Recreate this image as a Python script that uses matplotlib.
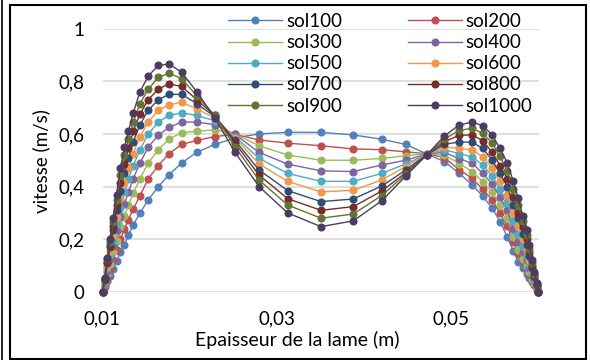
import matplotlib
matplotlib.use("Agg")
import matplotlib.pyplot as plt
from matplotlib.lines import Line2D
from matplotlib.patches import Rectangle

plt.rcParams['font.family'] = ['Lato', 'DejaVu Sans']

# epaisseur de la lame (m)
x_pos = [0.0100, 0.01029, 0.01057, 0.01086, 0.01120, 0.01161, 0.01206, 0.01252, 0.01298,
         0.01353, 0.01430, 0.01525, 0.01640, 0.01763, 0.01908, 0.02080, 0.02290, 0.02520,
         0.02795, 0.03124, 0.03506, 0.03876, 0.04202, 0.04477, 0.04718, 0.04920, 0.05092,
         0.05241, 0.05360, 0.05470, 0.05558, 0.05642, 0.05711, 0.05768, 0.05819, 0.05864,
         0.05894, 0.05929, 0.05952, 0.05979, 0.06000]

sol100 = [0, 0.018, 0.04, 0.062, 0.088, 0.118, 0.15, 0.18, 0.215, 0.255, 0.30, 0.35, 0.40, 0.445,
          0.49, 0.53, 0.56, 0.585, 0.60, 0.606, 0.606, 0.596, 0.58, 0.56, 0.524, 0.495, 0.45,
          0.406, 0.364, 0.318, 0.267, 0.21, 0.155, 0.115, 0.09, 0.07, 0.055, 0.037, 0.025, 0.011, 0]
sol200 = [0, 0.025, 0.055, 0.085, 0.12, 0.16, 0.2, 0.24, 0.275, 0.315, 0.365, 0.43, 0.48, 0.525,
          0.56, 0.575, 0.59, 0.598, 0.577, 0.565, 0.555, 0.543, 0.54, 0.532, 0.525, 0.51, 0.464,
          0.431, 0.39, 0.35, 0.30, 0.25, 0.19, 0.145, 0.112, 0.088, 0.068, 0.046, 0.031, 0.013, 0]
sol300 = [0, 0.03, 0.07, 0.105, 0.15, 0.195, 0.245, 0.29, 0.33, 0.375, 0.43, 0.49, 0.54, 0.58,
          0.605, 0.61, 0.615, 0.60, 0.555, 0.52, 0.50, 0.50, 0.507, 0.517, 0.525, 0.52, 0.487,
          0.457, 0.419, 0.38, 0.33, 0.28, 0.21, 0.16, 0.125, 0.10, 0.075, 0.05, 0.033, 0.015, 0]
sol400 = [0, 0.035, 0.08, 0.125, 0.175, 0.23, 0.285, 0.335, 0.38, 0.43, 0.49, 0.55, 0.595, 0.625,
          0.645, 0.645, 0.635, 0.598, 0.53, 0.485, 0.46, 0.457, 0.482, 0.50, 0.524, 0.53, 0.506,
          0.488, 0.45, 0.41, 0.36, 0.31, 0.24, 0.19, 0.15, 0.12, 0.09, 0.06, 0.04, 0.018, 0]
sol500 = [0, 0.04, 0.09, 0.14, 0.195, 0.26, 0.32, 0.38, 0.43, 0.48, 0.54, 0.60, 0.645, 0.67,
          0.68, 0.67, 0.65, 0.59, 0.507, 0.45, 0.42, 0.42, 0.45, 0.486, 0.523, 0.54, 0.525,
          0.513, 0.482, 0.44, 0.39, 0.34, 0.27, 0.22, 0.175, 0.14, 0.105, 0.07, 0.046, 0.021, 0]
sol600 = [0, 0.043, 0.1, 0.155, 0.215, 0.285, 0.355, 0.415, 0.47, 0.525, 0.59, 0.645, 0.69, 0.71,
          0.72, 0.695, 0.66, 0.585, 0.486, 0.42, 0.38, 0.386, 0.425, 0.476, 0.522, 0.55, 0.545,
          0.539, 0.513, 0.47, 0.42, 0.37, 0.30, 0.25, 0.20, 0.16, 0.12, 0.08, 0.052, 0.024, 0]
sol700 = [0, 0.046, 0.11, 0.17, 0.235, 0.31, 0.385, 0.45, 0.51, 0.57, 0.635, 0.69, 0.73, 0.75,
          0.75, 0.715, 0.665, 0.575, 0.463, 0.385, 0.343, 0.353, 0.402, 0.463, 0.521, 0.56, 0.57,
          0.568, 0.545, 0.50, 0.45, 0.40, 0.33, 0.28, 0.22, 0.18, 0.135, 0.09, 0.058, 0.026, 0]
sol800 = [0, 0.05, 0.115, 0.18, 0.25, 0.33, 0.415, 0.485, 0.545, 0.61, 0.675, 0.73, 0.77, 0.79,
          0.78, 0.73, 0.67, 0.565, 0.444, 0.354, 0.31, 0.324, 0.383, 0.453, 0.52, 0.57, 0.595,
          0.596, 0.574, 0.53, 0.48, 0.43, 0.36, 0.30, 0.245, 0.20, 0.15, 0.10, 0.064, 0.028, 0]
sol900 = [0, 0.053, 0.125, 0.19, 0.265, 0.35, 0.445, 0.52, 0.58, 0.645, 0.715, 0.77, 0.815, 0.83,
          0.81, 0.745, 0.67, 0.55, 0.425, 0.33, 0.28, 0.296, 0.366, 0.447, 0.52, 0.58, 0.614,
          0.621, 0.602, 0.565, 0.515, 0.46, 0.39, 0.33, 0.27, 0.217, 0.165, 0.11, 0.07, 0.03, 0]
sol1000 = [0, 0.055, 0.13, 0.20, 0.28, 0.37, 0.47, 0.55, 0.61, 0.68, 0.76, 0.82, 0.86, 0.865,
           0.834, 0.76, 0.66, 0.53, 0.40, 0.30, 0.248, 0.27, 0.346, 0.44, 0.52, 0.592, 0.634,
           0.645, 0.631, 0.596, 0.545, 0.49, 0.42, 0.356, 0.29, 0.235, 0.18, 0.12, 0.077, 0.033, 0]

labels = ['sol100', 'sol200', 'sol300', 'sol400', 'sol500',
          'sol600', 'sol700', 'sol800', 'sol900', 'sol1000']
series = [sol100, sol200, sol300, sol400, sol500, sol600, sol700, sol800, sol900, sol1000]
colors = ['#4F81BD', '#C0504D', '#9BBB59', '#8064A2', '#4BACC6',
          '#F79646', '#2C4D75', '#772C2A', '#5F7530', '#4D3B62']

fig = plt.figure(figsize=(5.9, 3.6), dpi=100)
ax = fig.add_axes([102.5/590, 68/360, 436/590, 263.5/360])

lines = []
for vals, lab, c in zip(series, labels, colors):
    l, = ax.plot(x_pos, vals, color=c, lw=1, marker='o', markersize=4.8, label=lab, clip_on=False)
    lines.append(l)

ax.set_xlim(0.01, 0.06)
ax.set_ylim(0, 1)
ax.set_xticks([0.01, 0.03, 0.05])
ax.set_xticklabels(['0,01', '0,03', '0,05'])
ax.set_yticks([0, 0.2, 0.4, 0.6, 0.8, 1.0])
ax.set_yticklabels(['0', '0,2', '0,4', '0,6', '0,8', '1'])
ax.tick_params(length=0, labelsize=13.5, colors='#000000')
ax.tick_params(axis='y', pad=13)
ax.tick_params(axis='x', pad=13)
ax.grid(axis='y', color='#d9d9d9', lw=1.2)
ax.set_axisbelow(True)
for s in ax.spines.values():
    s.set_visible(False)

fig.text(297/590, 1 - 340/360, 'Epaisseur de la lame (m)', ha='center', va='center', fontsize=14)
fig.text(41/590, 1 - 161/360, 'vitesse (m/s)', ha='center', va='center', fontsize=13.5, rotation=90)

# legende remplie ligne par ligne comme dans Excel
order = [0, 2, 4, 6, 8, 1, 3, 5, 7, 9]
ax.legend([lines[i] for i in order], [labels[i] for i in order],
          ncol=2, loc='upper left', bbox_to_anchor=(228/590, 1 - 13/360),
          bbox_transform=fig.transFigure, frameon=False, fontsize=13.5,
          handlelength=2.9, handletextpad=0.2, columnspacing=3.5,
          labelspacing=0.22, borderpad=0, borderaxespad=0)

# cadre du graphique
fig.add_artist(Rectangle((10/590, 1/360), 576/590, 354/360, transform=fig.transFigure,
                         fill=False, edgecolor='black', lw=1.5))
fig.add_artist(Line2D([1.5/590, 1.5/590], [0, 1], transform=fig.transFigure, color='black', lw=1.2))

plt.savefig("out.png", dpi=100)
